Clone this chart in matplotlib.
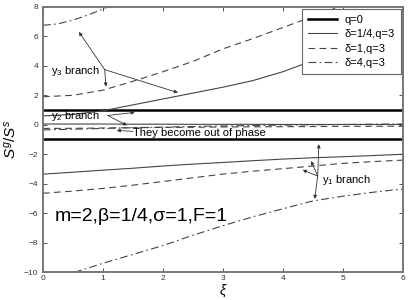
import numpy as np
import matplotlib
matplotlib.use("Agg")
import matplotlib.pyplot as plt

plt.rcParams['font.family'] = ['Liberation Sans', 'DejaVu Sans']
plt.rcParams['mathtext.fontset'] = 'custom'
plt.rcParams['mathtext.rm'] = 'Liberation Sans'
plt.rcParams['mathtext.it'] = 'Liberation Sans:italic'

# -------------------------------
# Values
# -------------------------------

# q = 0 : two flat branches
xi_q0 = [0, 6]
q0_upper = [1, 1]
q0_lower = [-1, -1]

# delta = 1/4, q = 3
xi_a = [0, 0.5, 1.0, 1.5, 2.0, 2.5, 3.0, 3.5, 4.0, 4.5, 5.0, 5.5, 6.0]
a_y3 = [0.6, 0.7, 0.95, 1.35, 1.75, 2.15, 2.55, 3.0, 3.6, 4.35, 5.1, 5.9, 6.7]
a_y2 = [0.05, 0.05, 0.05, 0.04, 0.04, 0.03, 0.03, 0.03, 0.02, 0.02, 0.02, 0.02, 0.02]
a_y1 = [-3.35, -3.22, -3.08, -2.95, -2.8, -2.67, -2.56, -2.44, -2.33, -2.24, -2.17, -2.09, -2.0]

# delta = 1, q = 3
xi_b = [0, 0.5, 1.0, 1.5, 2.0, 2.5, 3.0, 3.5, 4.0, 4.5, 5.0, 5.5, 6.0]
b_y3 = [1.9, 2.0, 2.35, 2.95, 3.6, 4.3, 5.15, 5.85, 6.6, 7.35, 8.1, 8.8, 9.5]
b_y2 = [-0.25, -0.24, -0.22, -0.2, -0.18, -0.17, -0.15, -0.14, -0.13, -0.12, -0.11, -0.1, -0.1]
b_y1 = [-4.65, -4.5, -4.32, -4.1, -3.85, -3.6, -3.35, -3.15, -2.98, -2.8, -2.62, -2.5, -2.4]

# delta = 4, q = 3
xi_c_top = [0, 0.25, 0.5, 0.75, 1.0, 1.25, 1.5]
c_y3 = [6.75, 6.85, 7.1, 7.45, 7.85, 8.3, 8.8]
xi_c = [0, 0.5, 1.0, 1.5, 2.0, 2.5, 3.0, 3.5, 4.0, 4.5, 5.0, 5.5, 6.0]
c_y2 = [-0.35, -0.3, -0.25, -0.2, -0.16, -0.12, -0.08, -0.05, -0.02, 0.0, 0.02, 0.04, 0.05]
c_y1 = [-10.6, -10.05, -9.4, -8.8, -8.2, -7.5, -6.85, -6.25, -5.7, -5.17, -4.85, -4.58, -4.36]

legend_labels = ['q=0', 'δ=1/4,q=3', 'δ=1,q=3', 'δ=4,q=3']

# -------------------------------
# Plot
# -------------------------------

fig = plt.figure(figsize=(4.09, 3.0), dpi=100)
ax = fig.add_axes([0.105, 0.093, 0.88, 0.884])

thin = 0.8
grey = '#444444'

l0, = ax.plot(xi_q0, q0_upper, color='black', lw=1.8)
ax.plot(xi_q0, q0_lower, color='black', lw=1.8)

l1, = ax.plot(xi_a, a_y3, color=grey, lw=thin, ls='-')
ax.plot(xi_a, a_y2, color=grey, lw=thin, ls='-')
ax.plot(xi_a, a_y1, color=grey, lw=thin, ls='-')

l2, = ax.plot(xi_b, b_y3, color=grey, lw=thin, ls=(0, (6, 4)))
ax.plot(xi_b, b_y2, color=grey, lw=thin, ls=(0, (6, 4)))
ax.plot(xi_b, b_y1, color=grey, lw=thin, ls=(0, (6, 4)))

l3, = ax.plot(xi_c_top, c_y3, color=grey, lw=thin, ls=(0, (7, 3, 1.5, 3)))
ax.plot(xi_c, c_y2, color=grey, lw=thin, ls=(0, (7, 3, 1.5, 3)))
ax.plot(xi_c, c_y1, color=grey, lw=thin, ls=(0, (7, 3, 1.5, 3)))

ax.set_xlim(0, 6)
ax.set_ylim(-10, 8)
ax.set_xticks(range(0, 7))
ax.set_yticks(range(-10, 9, 2))
ax.tick_params(direction='in', labelsize=6, length=3, width=0.6,
               top=True, right=True, colors='#333333')
ax.tick_params(axis='x', pad=2)
for sp in ax.spines.values():
    sp.set_color('#777777')
    sp.set_linewidth(1.4)

ax.set_xlabel(r'$\xi$', fontsize=10, labelpad=0)
ax.set_ylabel(r'$S^g/S^s$', fontsize=11, labelpad=4)

leg = ax.legend([l0, l1, l2, l3], legend_labels, loc='upper right',
                fontsize=8, handlelength=2.6, borderaxespad=0.15,
                fancybox=False, framealpha=1, edgecolor='#666666',
                labelspacing=0.4, borderpad=0.55, handletextpad=0.7)
leg.get_frame().set_linewidth(0.8)

# -------------------------------
# Annotations
# -------------------------------
arr = dict(arrowstyle='-|>', color='#333333', lw=0.6,
           mutation_scale=5, shrinkA=0, shrinkB=0)

ax.text(0.13, 3.67, r'y$_3$ branch', fontsize=8, va='center', ha='left')
for tgt in [(0.6, 6.3), (1.05, 2.59), (2.25, 2.18)]:
    ax.annotate('', xy=tgt, xytext=(1.03, 3.74), arrowprops=arr)

ax.text(0.13, 0.6, r'y$_2$ branch', fontsize=8, va='center', ha='left')
for tgt in [(1.53, 0.84), (1.4, -0.04)]:
    ax.annotate('', xy=tgt, xytext=(1.08, 0.63), arrowprops=arr)

ax.text(1.5, -0.55, 'They become out of phase', fontsize=8,
        va='center', ha='left')
ax.annotate('', xy=(1.23, -0.38), xytext=(1.5, -0.45), arrowprops=arr)

ax.text(4.65, -3.75, r'y$_1$ branch', fontsize=8, va='center', ha='left')
for tgt in [(4.6, -1.32), (4.47, -2.46), (4.33, -3.07), (4.53, -5.03)]:
    ax.annotate('', xy=tgt, xytext=(4.58, -3.48), arrowprops=arr)

ax.text(0.2, -6.25, 'm=2,β=1/4,σ=1,F=1', fontsize=14, va='center', ha='left')

fig.savefig('out.png', dpi=100)
